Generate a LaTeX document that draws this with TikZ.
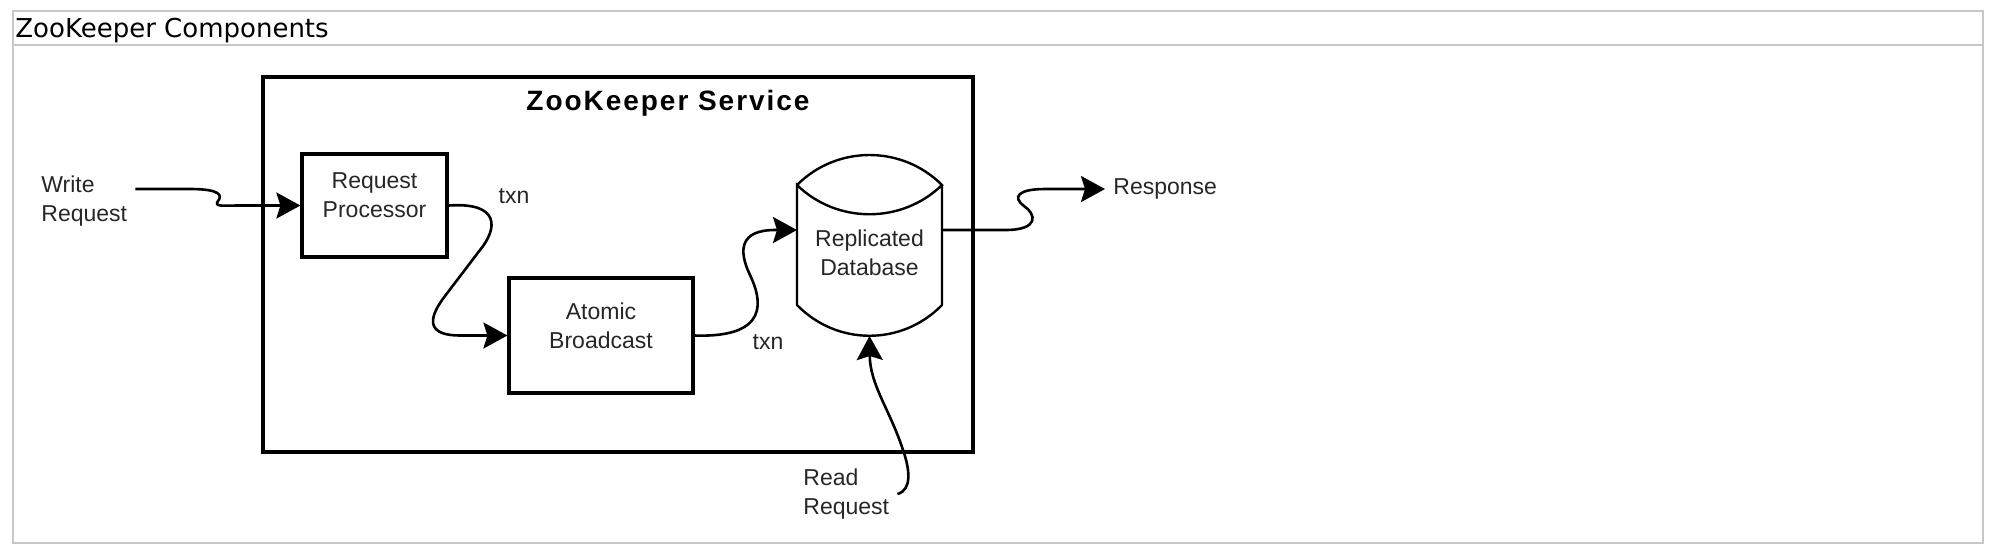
\documentclass[tikz,border=0pt]{standalone}
\usepackage{fontspec}
\setmainfont{Liberation Sans}
\newfontfamily\capfont{DejaVu Sans}
\newfontfamily\svcfont[LetterSpace=7]{Liberation Sans}
\usetikzlibrary{arrows.meta}
\definecolor{framegray}{HTML}{C8C8C8}
\definecolor{ink}{HTML}{262626}

\begin{document}
\begin{tikzpicture}[x=0.5pt,y=-0.5pt,
	procbox/.style={draw,line width=1.6pt,align=center,inner sep=0pt,text depth=10pt,text=ink,font=\fontsize{11.5}{14.5}\selectfont},
	lbl/.style={align=left,inner sep=4pt,text=ink,font=\fontsize{11.5}{14.5}\selectfont},
	flow/.style={-{Stealth[length=12pt,width=13pt,inset=2pt]},line width=1.3pt}]
	\useasboundingbox (0,0) rectangle (2002,554);
	% frame with caption
	\draw[framegray,line width=1pt] (13,11) rectangle (1983,543);
	\draw[framegray,line width=1pt] (13,45) -- (1983,45);
	\node[anchor=base west,inner sep=0pt,font=\capfont\fontsize{13}{15}\selectfont](cap) at (15,37){ZooKeeper Components};
	% service
	\node[draw,line width=2pt,minimum width=355pt,minimum height=187.5pt](svc) at (618,264.5){};
	\node[anchor=base,inner sep=0pt,font=\svcfont\fontsize{14}{16}\bfseries\selectfont](svct) at (668,110){ZooKeeper Service};
	\node[procbox,minimum width=72.5pt,minimum height=51.5pt](rp) at (374.5,205.5){Request\\Processor};
	\node[procbox,minimum width=92pt,minimum height=57.5pt](ab) at (601,335.5){Atomic\\Broadcast};
	% database
	\draw[line width=1.2pt] (797,185) .. controls (837,145) and (902,145) .. (942,185) .. controls (902,224) and (837,224) .. (797,185) -- (797,305) .. controls (837,346) and (902,346) .. (942,305) -- (942,185);
	\node[align=center,text=ink,font=\fontsize{11.5}{14.5}\selectfont](db) at (869.5,253){Replicated\\Database};
	\coordinate (dbin) at (797,230);
	\coordinate (dbout) at (942,230);
	\coordinate (dbbot) at (869.5,336);
	% labels
	\node[lbl,anchor=west](wr) at (33,201){Write\\Request};
	\node[lbl,anchor=west](resp) at (1105,189){Response};
	\node[lbl,anchor=west](rr) at (795,494){Read\\Request};
	\node[lbl](t1) at (514,196){txn};
	\node[lbl](t2) at (768,342){txn};
	% flows
	\draw[flow]([yshift=6pt]wr.east) -- (190,189) .. controls (222,189) and (222,196) .. (218,201) .. controls (214,207) and (222,205.5) .. (240,205.5) -- (rp.west);
	\draw[flow](rp.east) .. controls (500,202) and (498,228) .. (480,250) -- (445,296) .. controls (425,322) and (430,335.5) .. (460,335.5) -- (ab.west);
	\draw[flow](ab.east) .. controls (770,338) and (762,300) .. (750,275) .. controls (738,250) and (740,230) .. (775,230) -- (dbin);
	\draw[flow](dbout) -- (1005,230) .. controls (1040,230) and (1036,214) .. (1024,206) .. controls (1012,197) and (1018,189) .. (1045,189) -- (resp.west);
	\draw[flow](rr.east) .. controls (912,490) and (910,470) .. (903,450) .. controls (890,410) and (870,385) .. (dbbot);
\end{tikzpicture}
\end{document}
